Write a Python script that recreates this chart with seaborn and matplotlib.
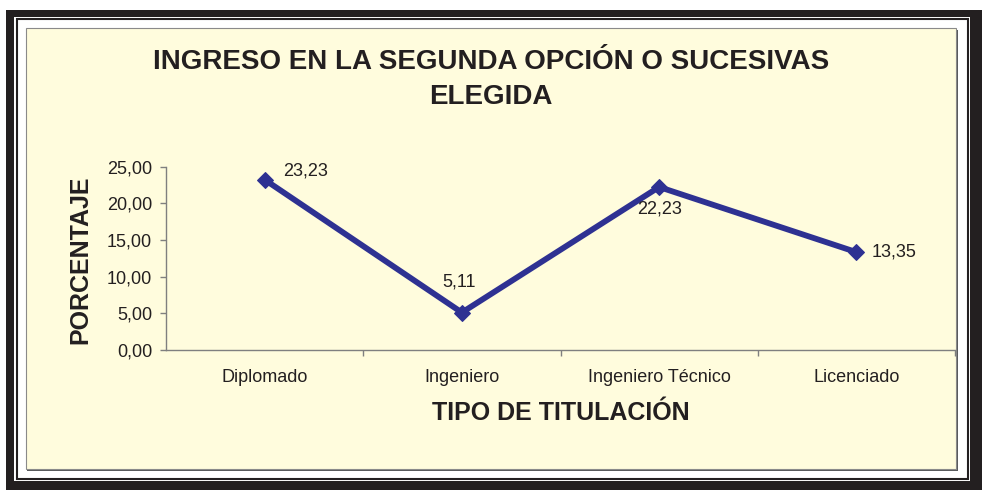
import matplotlib
matplotlib.use("Agg")
import matplotlib.pyplot as plt
from matplotlib.patches import Rectangle
from matplotlib.ticker import FuncFormatter, FixedLocator
import seaborn as sns

# ------------------------------
# Data
# ------------------------------
categories = ["Diplomado", "Ingeniero", "Ingeniero Técnico", "Licenciado"]
porcentaje = [23.23, 5.11, 22.23, 13.35]
y_ticks = [0, 5, 10, 15, 20, 25]

title_lines = ["INGRESO EN LA SEGUNDA OPCIÓN O SUCESIVAS", "ELEGIDA"]
x_title = "TIPO DE TITULACIÓN"
y_title = "PORCENTAJE"

# ------------------------------
# Style
# ------------------------------
sns.set_style("white")
plt.rcParams["font.family"] = ["Liberation Sans", "DejaVu Sans"]

W, H = 982, 490
cream = "#FFFCDD"
ink = "#231F20"
blue = "#2E3192"

fig = plt.figure(figsize=(W / 100, H / 100), dpi=100)
fig.patch.set_facecolor("white")


def px_rect(x0, y0, x1, y1, **kw):
    # pixel box (top-left origin) -> figure fraction rectangle
    r = Rectangle((x0 / W, 1 - y1 / H), (x1 - x0) / W, (y1 - y0) / H,
                  transform=fig.transFigure, **kw)
    fig.add_artist(r)
    return r


# frame: black band with shadow, white gap, thin black line, cream panel
px_rect(6, 10, 990, 500, facecolor="#231F20", edgecolor="none", zorder=0)
px_rect(14, 17, 970, 481, facecolor="white", edgecolor="none", zorder=0)
px_rect(16.5, 19.5, 968, 479, facecolor="none", edgecolor="#231F20",
        linewidth=1.5, zorder=0)
px_rect(27, 30, 957.5, 470.5, facecolor="#58595B", edgecolor="none", zorder=0)
px_rect(25.5, 28.5, 955.5, 468.5, facecolor=cream, edgecolor="#8A8A8A",
        linewidth=0.8, zorder=0)

# ------------------------------
# Axes
# ------------------------------
ax = fig.add_axes([166 / W, 1 - 350 / H, (955 - 166) / W, (350 - 166.7) / H])
ax.set_facecolor("none")

sns.lineplot(x=categories, y=porcentaje, ax=ax, color=blue, linewidth=4.2,
             marker="D", markersize=8.5, markeredgecolor=blue, sort=False)

ax.set_xlim(-0.5, 3.5)
ax.set_ylim(0, 25)
ax.set_yticks(y_ticks)
ax.yaxis.set_major_formatter(FuncFormatter(lambda v, p: f"{v:.2f}".replace(".", ",")))
ax.xaxis.set_minor_locator(FixedLocator([0.5, 1.5, 2.5, 3.5]))

for side in ["top", "right"]:
    ax.spines[side].set_visible(False)
for side in ["left", "bottom"]:
    ax.spines[side].set_color("#7F7F7F")
    ax.spines[side].set_linewidth(1.0)

ax.tick_params(axis="y", which="major", left=True, length=4, width=1,
               color="#7F7F7F", pad=6, labelsize=13, labelcolor=ink)
ax.tick_params(axis="x", which="major", bottom=True, length=0, pad=14,
               labelsize=13, labelcolor=ink)
ax.tick_params(axis="x", which="minor", bottom=True, length=4, width=1,
               color="#7F7F7F")
ax.set_xlabel("")
ax.set_ylabel("")

# data labels
offsets = [(13, 6, "left", "center"), (-2, 16, "center", "bottom"),
           (0, -10, "center", "top"), (11, 0, "left", "center")]
for i, (v, (dx, dy, ha, va)) in enumerate(zip(porcentaje, offsets)):
    ax.annotate(f"{v:.2f}".replace(".", ","), (i, v), xytext=(dx, dy),
                textcoords="offset points", ha=ha, va=va, fontsize=13,
                color=ink)

# ------------------------------
# Titles
# ------------------------------
for line, ypx in zip(title_lines, [62, 97]):
    fig.text(491 / W, 1 - ypx / H, line, ha="center", va="center",
             fontsize=20, fontweight="bold", color=ink)
fig.text(561 / W, 1 - 413 / H, x_title, ha="center", va="center",
         fontsize=18, fontweight="bold", color=ink)
fig.text(80 / W, 1 - 260 / H, y_title, ha="center", va="center",
         rotation=90, fontsize=18, fontweight="bold", color=ink)

fig.savefig("out.png", dpi=100)
